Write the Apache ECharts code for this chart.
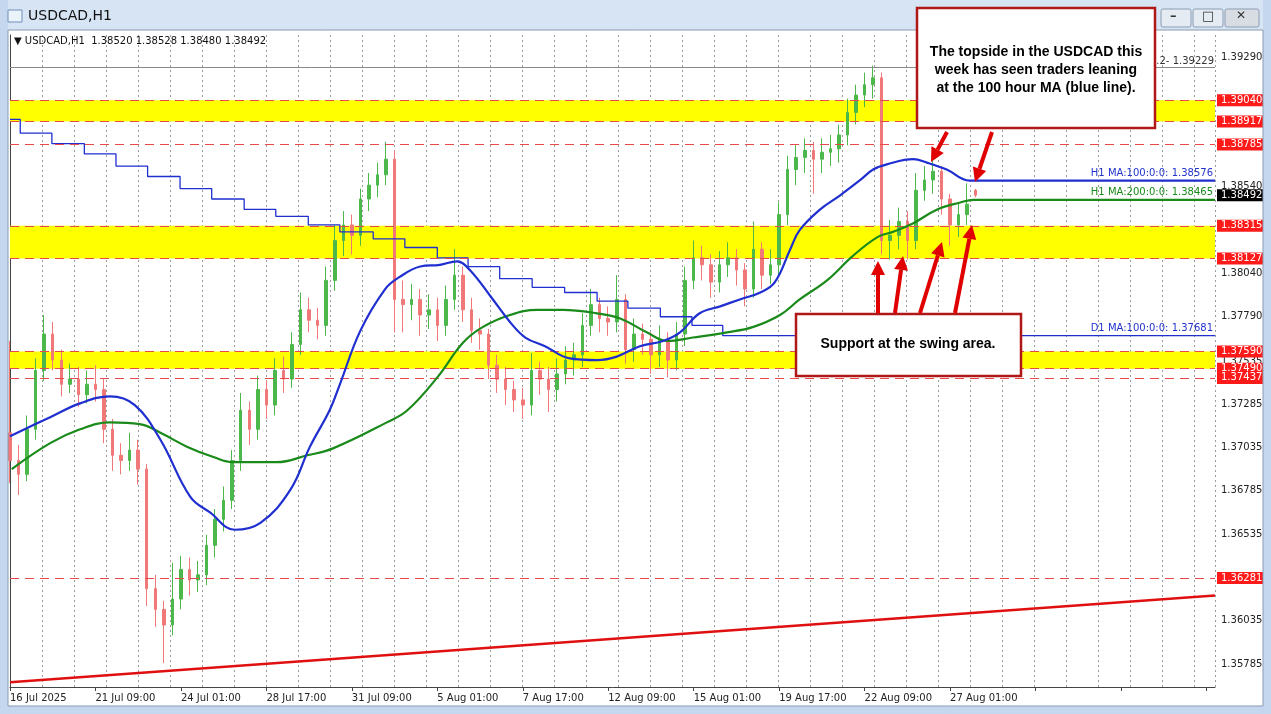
<!DOCTYPE html>
<html><head><meta charset="utf-8">
<script src="https://cdn.jsdelivr.net/npm/echarts@6/dist/echarts.min.js"></script>
<style>html,body{margin:0;padding:0;background:#fff}#c{width:1271px;height:714px}</style>
</head><body><div id="c"></div>
<script>
// ---- data ----
const tickLabels = ["16 Jul 2025","21 Jul 09:00","24 Jul 01:00","28 Jul 17:00","31 Jul 09:00","5 Aug 01:00","7 Aug 17:00","12 Aug 09:00","15 Aug 01:00","19 Aug 17:00","22 Aug 09:00","27 Aug 01:00"];
const priceTicks = ["1.39290","1.38540","1.38040","1.37790","1.37535","1.37285","1.37035","1.36785","1.36535","1.36035","1.35785"];
const opens = [1.3712,1.3696,1.3688,1.3714,1.3748,1.3769,1.3754,1.3740,1.3743,1.3734,
1.3740,1.3737,1.3714,1.3699,1.3696,1.3702,1.3691,1.3622,1.3610,1.3601,
1.3616,1.3633,1.3627,1.3630,1.3647,1.3662,1.3673,1.3696,1.3725,1.3714,
1.3737,1.3728,1.3748,1.3743,1.3763,1.3783,1.3777,1.3774,1.3800,1.3823,
1.3832,1.3826,1.3847,1.3855,1.3861,1.3870,1.3789,1.3786,1.3789,1.3780,
1.3783,1.3774,1.3789,1.3803,1.3783,1.3771,1.3769,1.3751,1.3743,1.3737,
1.3731,1.3728,1.3748,1.3743,1.3737,1.3746,1.3754,1.3757,1.3774,1.3786,
1.3778,1.3776,1.3789,1.3760,1.3769,1.3766,1.3757,1.3766,1.3754,1.3769,
1.3800,1.3813,1.3809,1.3799,1.3809,1.3813,1.3806,1.3795,1.3818,1.3803,
1.3809,1.3838,1.3864,1.3871,1.3875,1.3870,1.3874,1.3876,1.3884,1.3897,
1.3907,1.3913,1.3917,1.3823,1.3826,1.3834,1.3823,1.3852,1.3858,1.3863,
1.3847,1.3832,1.3838,1.38520];
const closes = [1.3696,1.3688,1.3714,1.3748,1.3769,1.3754,1.3740,1.3743,1.3734,1.3740,
1.3737,1.3714,1.3699,1.3696,1.3702,1.3691,1.3622,1.3610,1.3601,1.3616,
1.3633,1.3627,1.3630,1.3647,1.3662,1.3673,1.3696,1.3725,1.3714,1.3737,
1.3728,1.3748,1.3743,1.3763,1.3783,1.3777,1.3774,1.3800,1.3823,1.3832,
1.3826,1.3847,1.3855,1.3861,1.3870,1.3789,1.3786,1.3789,1.3780,1.3783,
1.3774,1.3789,1.3803,1.3783,1.3771,1.3769,1.3751,1.3743,1.3737,1.3731,
1.3728,1.3748,1.3743,1.3737,1.3746,1.3754,1.3757,1.3774,1.3786,1.3778,
1.3776,1.3789,1.3760,1.3769,1.3766,1.3757,1.3766,1.3754,1.3769,1.3800,
1.3813,1.3809,1.3799,1.3809,1.3813,1.3806,1.3795,1.3818,1.3803,1.3809,
1.3838,1.3864,1.3871,1.3875,1.3870,1.3874,1.3876,1.3884,1.3897,1.3907,
1.3913,1.3917,1.3823,1.3826,1.3834,1.3823,1.3852,1.3858,1.3863,1.3847,
1.3832,1.3838,1.3844,1.38492];
const highs = [1.3765,1.3705,1.3722,1.3755,1.3780,1.3776,1.3760,1.3752,1.3750,1.3748,
1.3751,1.3743,1.3720,1.3706,1.3712,1.3708,1.3694,1.3630,1.3615,1.3637,
1.3641,1.3640,1.3638,1.3653,1.3668,1.3681,1.3702,1.3735,1.3730,1.3745,
1.3742,1.3755,1.3756,1.3770,1.3793,1.3790,1.3784,1.3808,1.3832,1.3840,
1.3838,1.3853,1.3862,1.3868,1.3880,1.3875,1.3800,1.3798,1.3795,1.3792,
1.3790,1.3797,1.3818,1.3808,1.3790,1.3778,1.3772,1.3757,1.3750,1.3742,
1.3738,1.3758,1.3753,1.3750,1.3755,1.3762,1.3764,1.3781,1.3795,1.3790,
1.3785,1.3803,1.3792,1.3778,1.3775,1.3770,1.3774,1.3770,1.3776,1.3808,
1.3823,1.3820,1.3815,1.3817,1.3822,1.3818,1.3810,1.3834,1.3822,1.3818,
1.3845,1.3872,1.3878,1.3882,1.3880,1.3882,1.3884,1.3890,1.3905,1.3913,
1.3920,1.3924,1.3920,1.3835,1.3842,1.3840,1.3862,1.3866,1.3869,1.3866,
1.3850,1.3845,1.3856,1.38528];
const lows = [1.3683,1.3676,1.3684,1.3708,1.3742,1.3748,1.3733,1.3735,1.3727,1.3729,
1.3730,1.3706,1.3690,1.3688,1.3690,1.3682,1.3612,1.3600,1.3579,1.3595,
1.3610,1.3618,1.3620,1.3624,1.3640,1.3655,1.3668,1.3690,1.3705,1.3708,
1.3720,1.3722,1.3735,1.3738,1.3757,1.3770,1.3766,1.3768,1.3794,1.3814,
1.3815,1.3820,1.3840,1.3848,1.3855,1.3770,1.3770,1.3777,1.3768,1.3772,
1.3765,1.3768,1.3783,1.3776,1.3764,1.3760,1.3743,1.3735,1.3728,1.3724,
1.3720,1.3722,1.3734,1.3724,1.3730,1.3740,1.3745,1.3750,1.3768,1.3770,
1.3768,1.3770,1.3752,1.3753,1.3757,1.3746,1.3750,1.3744,1.3748,1.3762,
1.3795,1.3800,1.3790,1.3793,1.3802,1.3797,1.3785,1.3790,1.3795,1.3798,
1.3803,1.3832,1.3855,1.3862,1.3850,1.3862,1.3866,1.3868,1.3878,1.3890,
1.3900,1.3905,1.3815,1.3812,1.3818,1.3812,1.3818,1.3846,1.3850,1.3838,
1.3820,1.3825,1.3832,1.38480];
const ma100H1 = [[0,1.3710],[4.7,1.3721],[8.2,1.3729],[11.7,1.3733],[14.6,1.3728],[17.6,1.3708],[21.1,1.3675],[23.4,1.3666],[26.3,1.3656],[29.3,1.3660],[32.8,1.3679],[35.1,1.3704],[37.4,1.3725],[38.6,1.3740],[41,1.3771],[43.9,1.3795],[45.6,1.3802],[48,1.3808],[50.3,1.3809],[52.3,1.3811],[53.8,1.3806],[56.2,1.3791],[58.5,1.3776],[60.3,1.3767],[62.6,1.3762],[65.5,1.3755],[68.7,1.3754],[71,1.3756],[73.7,1.3762],[76.4,1.3765],[78.4,1.3770],[80.7,1.3781],[83.1,1.3785],[85.4,1.3789],[87.8,1.3793],[89.5,1.3799],[91.3,1.3818],[92.4,1.3829],[94.8,1.3841],[97.1,1.3849],[99.5,1.3858],[101,1.3864],[102.6,1.3867],[105.7,1.3870],[107.3,1.3868],[109.6,1.3864],[112.3,1.38576],[141,1.38576]];
const ma200H1 = [[0.2,1.3691],[4.7,1.3706],[8.2,1.3714],[11.7,1.3718],[15.2,1.3717],[17.6,1.3712],[20.7,1.3704],[23.8,1.3698],[26.1,1.3695],[31.2,1.3695],[34.8,1.3699],[37.8,1.3703],[44.1,1.3718],[46.5,1.3725],[50,1.3744],[53,1.3764],[55.3,1.3773],[58.5,1.3780],[61.7,1.3783],[64.7,1.3783],[68.7,1.3781],[71.4,1.3778],[74.5,1.3770],[76.9,1.3765],[79.9,1.3767],[83.9,1.3770],[86.9,1.3773],[90.1,1.3780],[92.4,1.3789],[95.6,1.3800],[98.6,1.3814],[101.5,1.3825],[103.3,1.3828],[105.7,1.3833],[108.5,1.3841],[111.2,1.3845],[112.7,1.38465],[141,1.38465]];
const ma100D1 = [[0,1.3893],[1.2,1.3885],[4.9,1.3879],[8.7,1.3873],[12.4,1.3866],[16.1,1.3860],[19.9,1.3853],[23.6,1.3847],[27.4,1.3841],[31.1,1.3837],[34.9,1.3832],[38.6,1.3828],[42.5,1.3824],[46.2,1.3819],[50,1.3813],[53.6,1.3808],[57.3,1.3801],[61.1,1.3796],[64.9,1.3793],[68.7,1.3788],[72.3,1.3784],[76.1,1.3779],[79.8,1.3774],[83.4,1.37681],[141,1.37681]];
const trendLine = [[0,1.3568],[141,1.3618]];
const redLevels = ["1.39040","1.38917","1.38785","1.38315","1.38127","1.37590","1.37490","1.37437","1.36281"];
const bands = [[1.38917,1.39040],[1.38127,1.38315],[1.37490,1.37590]];
const lastPrice = "1.38492";
const fib = "1.39229";

// ---- build ----
const N = 142;
const cats = [];
for (let i = 0; i < N; i++) cats.push(i % 10 === 0 && tickLabels[i/10] ? tickLabels[i/10] : '');
const candles = opens.map((o,i)=>[o, closes[i], lows[i], highs[i]]);

const FONT = 'DejaVu Sans';
const CLEAR = {color:'rgba(0,0,0,0)', width:0};
function hl(v, lineStyle, label){
  return [{coord:[0, v], lineStyle, label}, {coord:[N-1, v]}];
}
const blackTicks = priceTicks.map(p=>hl(+p, CLEAR, {position:'end', formatter:p, color:'#222', fontSize:10, fontFamily:FONT, distance:6}));
const reds = redLevels.map(p=>hl(+p, {color:'#e84a4a', type:[9,6], width:1}, {position:'end', formatter:p, color:'#fff', backgroundColor:'#ff1a1a', fontSize:10, fontFamily:FONT, padding:[1,4,1,4], distance:2}));
const extra = [
  hl(+fib, {color:'#888', type:'solid', width:1}, {position:'insideEndTop', formatter:'38.2- '+fib, color:'#333', fontSize:10, fontFamily:FONT, distance:1}),
  hl(1.38576, CLEAR, {position:'insideEndTop', formatter:'H1 MA:100:0:0: 1.38576', color:'#2233cc', fontSize:10, fontFamily:FONT, distance:2}),
  hl(1.38465, CLEAR, {position:'insideEndTop', formatter:'H1 MA:200:0:0: 1.38465', color:'#1a8a1a', fontSize:10, fontFamily:FONT, distance:2}),
  hl(1.37681, CLEAR, {position:'insideEndTop', formatter:'D1 MA:100:0:0: 1.37681', color:'#2233cc', fontSize:10, fontFamily:FONT, distance:2}),
  hl(+lastPrice, CLEAR, {position:'end', formatter:lastPrice, color:'#fff', backgroundColor:'#000', fontSize:10, fontFamily:FONT, padding:[1,4,1,4], distance:2})
];

function arrow(x1,y1,x2,y2){
  const a=Math.atan2(y2-y1,x2-x1), L=14, W=7;
  const bx=x2-L*Math.cos(a), by=y2-L*Math.sin(a);
  const px=-Math.sin(a)*W, py=Math.cos(a)*W;
  return [
    {type:'line', z:100, shape:{x1,y1,x2:bx,y2:by}, style:{stroke:'#e00000', lineWidth:4}},
    {type:'polygon', z:100, shape:{points:[[x2,y2],[bx+px,by+py],[bx-px,by-py]]}, style:{fill:'#e00000'}}
  ];
}

const graphics = [
  {type:'rect', z:50, shape:{x:0,y:0,width:1271,height:30}, style:{fill:'#d6e4f4'}},
  {type:'rect', z:50, shape:{x:0,y:0,width:8,height:714}, style:{fill:'#c5d7ee'}},
  {type:'rect', z:50, shape:{x:1263,y:0,width:8,height:714}, style:{fill:'#c5d7ee'}},
  {type:'rect', z:50, shape:{x:0,y:706,width:1271,height:8}, style:{fill:'#c5d7ee'}},
  {type:'rect', z:51, shape:{x:8,y:30,width:1255,height:676}, style:{fill:'none', stroke:'#8a9bb0', lineWidth:1}},
  {type:'rect', z:51, shape:{x:8,y:10,width:14,height:12}, style:{fill:'#eaf2fb', stroke:'#6d8fb8'}},
  {type:'text', z:51, x:28, y:9, style:{text:'USDCAD,H1', font:'14px "DejaVu Sans"', fill:'#111'}},
  {type:'rect', z:51, shape:{x:1161,y:9,width:30,height:18,r:2}, style:{fill:'#e4ebf3', stroke:'#8d9db2'}},
  {type:'rect', z:51, shape:{x:1193,y:9,width:30,height:18,r:2}, style:{fill:'#e4ebf3', stroke:'#8d9db2'}},
  {type:'rect', z:51, shape:{x:1225,y:9,width:34,height:18,r:2}, style:{fill:'#d8dde3', stroke:'#8d9db2'}},
  {type:'text', z:52, x:1170, y:10, style:{text:'–', font:'bold 13px "DejaVu Sans"', fill:'#333'}},
  {type:'text', z:52, x:1202, y:10, style:{text:'□', font:'bold 13px "DejaVu Sans"', fill:'#333'}},
  {type:'text', z:52, x:1236, y:10, style:{text:'✕', font:'bold 12px "DejaVu Sans"', fill:'#333'}},
  {type:'text', z:52, x:14, y:36, style:{text:'▼ USDCAD,H1  1.38520 1.38528 1.38480 1.38492', font:'10px "DejaVu Sans"', fill:'#111'}},
  {type:'rect', z:90, shape:{x:917,y:8,width:238,height:120}, style:{fill:'#fff', stroke:'#b01818', lineWidth:2.5}},
  {type:'text', z:91, x:1036, y:43, style:{text:'The topside in the USDCAD this\nweek has seen traders leaning\nat the 100 hour MA (blue line).', font:'bold 14px "Liberation Sans"', fill:'#000', align:'center', lineHeight:18}},
  {type:'rect', z:90, shape:{x:796,y:314,width:225,height:62}, style:{fill:'#fff', stroke:'#b01818', lineWidth:2.5}},
  {type:'text', z:91, x:908, y:337, style:{text:'Support at the swing area.', font:'bold 14px "Liberation Sans"', fill:'#000', align:'center'}},
  ...arrow(947,132,931,162), ...arrow(992,132,975,182),
  ...arrow(878,313,878,261), ...arrow(895,313,903,256), ...arrow(920,313,942,242), ...arrow(955,313,972,225)
];

const chart = echarts.init(document.getElementById('c'));
chart.setOption({
  animation:false,
  backgroundColor:'#fff',
  grid:{left:10, right:56, top:35, bottom:27},
  xAxis:[
    {type:'category', data:cats, boundaryGap:false, axisLine:{lineStyle:{color:'#444'}},
     axisTick:{interval:(i)=>i%10===0, length:4, lineStyle:{color:'#444'}},
     axisLabel:{interval:0, align:'left', color:'#222', fontSize:10, fontFamily:FONT, margin:6}, splitLine:{show:false}},
    {type:'value', min:0, max:N-1, show:false},
    {type:'value', min:0, max:1205, interval:32, axisLine:{show:false}, axisTick:{show:false}, axisLabel:{show:false},
     splitLine:{show:true, lineStyle:{color:'#9a9a9a', type:[2,3], width:1}}}
  ],
  yAxis:{type:'value', position:'right', min:1.35652, max:1.39417, axisLine:{show:true, lineStyle:{color:'#444'}},
    axisTick:{show:false}, axisLabel:{show:false}, splitLine:{show:false}},
  graphic:graphics,
  series:[
    {type:'line', xAxisIndex:1, data:trendLine, symbol:'none', z:2, lineStyle:{color:'#e01010', width:2.5},
     markArea:{silent:true, itemStyle:{color:'#ffff00'}, data:bands.map(b=>[{yAxis:b[0]},{yAxis:b[1]}])},
     markLine:{silent:true, symbol:['none','none'], precision:5, data:[...blackTicks, ...reds, ...extra]}},
    {type:'candlestick', xAxisIndex:0, data:candles, barWidth:3, z:3,
     itemStyle:{color:'#4cb84c', color0:'#f07878', borderColor:'#4cb84c', borderColor0:'#f07878', borderWidth:1}},
    {type:'line', xAxisIndex:1, data:ma100D1, step:'end', symbol:'none', z:4, lineStyle:{color:'#1f2fd0', width:1.3}},
    {type:'line', xAxisIndex:1, data:ma200H1, symbol:'none', smooth:0.4, z:5, lineStyle:{color:'#1a8a1a', width:2.2}},
    {type:'line', xAxisIndex:1, data:ma100H1, symbol:'none', smooth:0.4, z:6, lineStyle:{color:'#1f2fd0', width:2.2}}
  ]
});
</script></body></html>
